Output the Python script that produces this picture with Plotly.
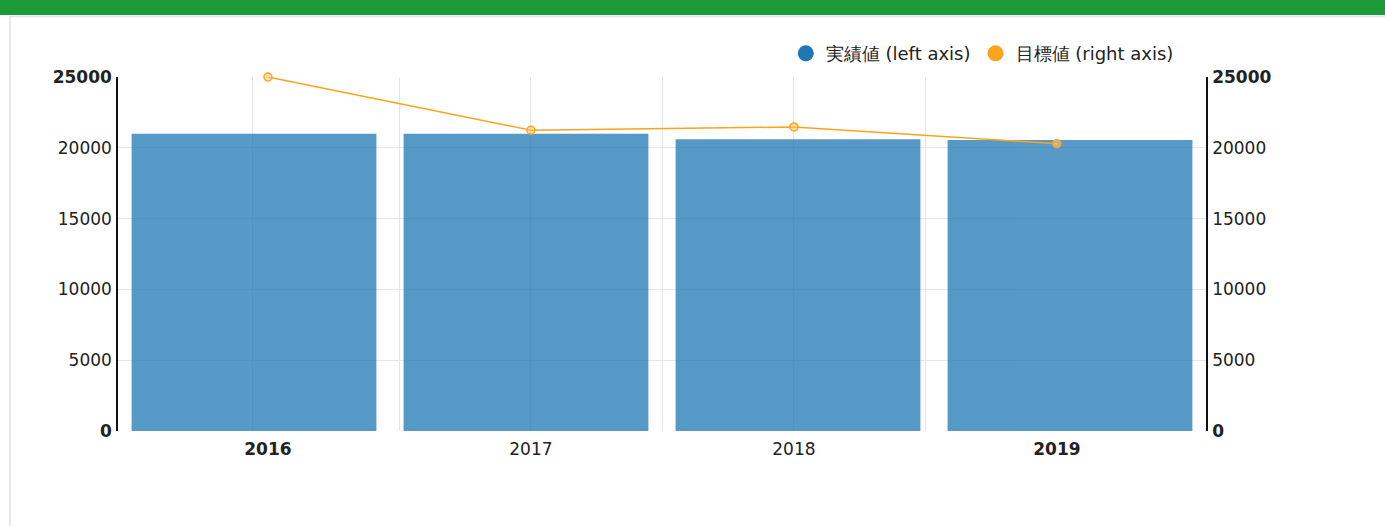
import plotly.graph_objects as go

# ---- data ----
years = ["2016", "2017", "2018", "2019"]
year_labels = ["<b>2016</b>", "2017", "2018", "<b>2019</b>"]
actual = [21000, 21000, 20600, 20550]
target = [25000, 21240, 21470, 20290]
y_ticks = [0, 5000, 10000, 15000, 20000, 25000]
y_tick_labels = ["<b>0</b>", "5000", "10000", "15000", "20000", "<b>25000</b>"]
grid_positions = [-0.06, 0.5, 1, 1.5, 2, 2.5]
series_names = ["実績値 (left axis)", "目標値 (right axis)"]

# ---- layout constants ----
W, H = 1385, 526
L, R, T, B = 118, 179, 77, 95
PW, PH = W - L - R, H - T - B
FONT = "DejaVu Sans"
BLUE = "#1f77b4"
ORANGE = "#ffa31a"

idx = list(range(len(years)))

fig = go.Figure()
fig.add_trace(go.Bar(x=years, y=actual, marker=dict(color=BLUE, line=dict(width=0)),
                     opacity=0.75, xaxis="x", yaxis="y", showlegend=False,
                     hoverinfo="x+y"))
fig.add_trace(go.Scatter(x=idx, y=target, mode="lines+markers", xaxis="x2", yaxis="y2",
                         line=dict(color=ORANGE, width=1.5), cliponaxis=False,
                         marker=dict(size=8, color="rgba(255,200,120,0.6)",
                                     line=dict(color=ORANGE, width=1.5)),
                         showlegend=False))
# legend entries (circle symbols)
for name, col in zip(series_names, [BLUE, ORANGE]):
    fig.add_trace(go.Scatter(x=[None], y=[None], mode="markers", name=name,
                             marker=dict(size=16, color=col), xaxis="x2", yaxis="y2"))

axis_font = dict(family=FONT, size=17, color="#222")

fig.update_layout(
    width=W, height=H, autosize=False,
    margin=dict(l=L, r=R, t=T, b=B, pad=0),
    paper_bgcolor="white", plot_bgcolor="white",
    font=dict(family=FONT, size=16, color="#222"),
    bargap=0.1,
    xaxis=dict(type="category", range=[-0.5, 3.5], showticklabels=False,
               showgrid=False, zeroline=False, showline=False, fixedrange=True),
    xaxis2=dict(overlaying="x", anchor="y", side="bottom", range=[-0.57, 3.567],
                tickmode="array", tickvals=idx, ticktext=year_labels, showgrid=False,
                zeroline=False, showline=False, ticks="", tickfont=axis_font,
                ticklabelstandoff=6,
                minor=dict(tickmode="array", tickvals=grid_positions, showgrid=True,
                           gridcolor="#e6e6e6", gridwidth=1, ticks="")),
    yaxis=dict(range=[0, 25000], tickmode="array", tickvals=y_ticks, ticktext=y_tick_labels,
               showgrid=True, gridcolor="#e6e6e6", gridwidth=1, zeroline=False,
               showline=True, linecolor="#111", linewidth=1.5, ticks="outside",
               ticklen=1, tickcolor="rgba(0,0,0,0)", tickfont=axis_font),
    yaxis2=dict(overlaying="y", side="right", anchor="x", range=[0, 25000],
                tickmode="array", tickvals=y_ticks, ticktext=y_tick_labels,
                showgrid=False, zeroline=False, showline=True, linecolor="#111",
                linewidth=1.5, ticks="outside", ticklen=1, tickcolor="rgba(0,0,0,0)",
                tickfont=axis_font),
    legend=dict(orientation="h", x=0.975, xanchor="right", y=1.066, yanchor="middle",
                font=dict(family=FONT, size=18, color="#222"), bgcolor="rgba(0,0,0,0)",
                itemclick=False, itemdoubleclick=False, tracegroupgap=0),
    shapes=[
        dict(type="rect", xref="paper", yref="paper", x0=-L / PW - 0.01, x1=1 + R / PW + 0.01,
             y0=1 + (T - 15) / PH, y1=1 + T / PH + 0.01, fillcolor="#1a9b38",
             line=dict(width=0), layer="above"),
        dict(type="line", xref="paper", yref="paper", x0=(10 - L) / PW, x1=1 + R / PW + 0.01,
             y0=1 + (T - 16.5) / PH, y1=1 + (T - 16.5) / PH,
             line=dict(color="#e3e3e3", width=1.5)),
        dict(type="line", xref="paper", yref="paper", x0=(10 - L) / PW, x1=(10 - L) / PW,
             y0=-B / PH - 0.01, y1=1 + (T - 16) / PH,
             line=dict(color="#e3e3e3", width=1.5)),
    ],
)

fig.write_html("out.html", config={"displayModeBar": False},
               post_script="document.body.style.margin='0';document.body.style.overflow='hidden';")
